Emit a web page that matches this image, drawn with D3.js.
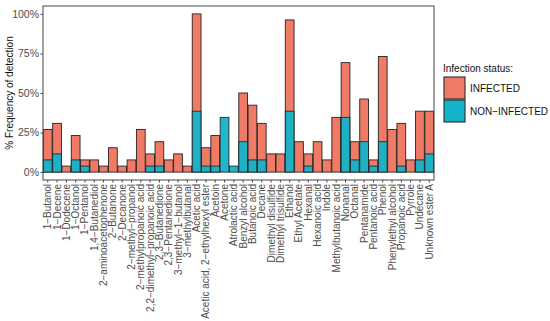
<!DOCTYPE html>
<html>
<head>
<meta charset="utf-8">
<script src="https://cdn.jsdelivr.net/npm/d3@7"></script>
<style>
  body { margin: 0; background: #fff; }
  svg { display: block; font-family: "Liberation Sans", Arial, sans-serif; }
</style>
</head>
<body>
<svg id="chart" width="550" height="321"></svg>
<script>
const compounds = [
  "1−Butanol", "1−Decene", "1−Dodecene", "1−Octanol", "1−Pentanol", "1,4−Butanediol",
  "2−aminoacetophenone", "2−Butanone", "2−Decanone", "2−methyl−propanol",
  "2−methylpropanoic acid", "2,2−dimethyl−propanoic acid", "2,3−Butanedione",
  "2,3−Pentanedione", "3−methyl−1−butanol", "3−methylbutanal", "Acetic acid",
  "Acetic acid, 2−ethylhexyl ester", "Acetoin", "Acetone", "Atrolactic acid",
  "Benzyl alcohol", "Butanoic acid", "Decane", "Dimethyl disulfide", "Dimethyl trisulfide",
  "Ethanol", "Ethyl Acetate", "Hexanal", "Hexanoic acid", "Indole", "Methylbutanoic acid",
  "Nonanal", "Octanal", "Pentanamide", "Pentanoic acid", "Phenol", "Phenylethyl alcohol",
  "Propanoic acid", "Pyrrole", "Undecane", "Unknown ester A"
];
// % frequency of detection
const infected = [
  26.9, 30.8, 3.8, 23.1, 7.7, 7.7, 3.8, 15.4, 3.8, 7.7,
  26.9, 11.5, 19.2, 7.7, 11.5, 3.8, 100, 15.4, 23.1, 0,
  0, 50, 42.3, 30.8, 11.5, 11.5, 96.2, 19.2, 11.5, 19.2,
  7.7, 34.6, 69.2, 19.2, 46.2, 7.7, 73.1, 26.9, 30.8, 7.7,
  38.5, 38.5
];
const nonInfected = [
  7.7, 11.5, 0, 7.7, 3.8, 0, 0, 0, 0, 0,
  0, 3.8, 3.8, 0, 0, 0, 38.5, 3.8, 3.8, 34.6,
  3.8, 19.2, 7.7, 7.7, 0, 0, 38.5, 0, 3.8, 0,
  0, 0, 34.6, 7.7, 19.2, 3.8, 19.2, 0, 3.8, 0,
  7.7, 11.5
];
const yTicks = [0, 25, 50, 75, 100];
const groups = ["INFECTED", "NON−INFECTED"];

const W = 550, H = 321;
const m = { top: 6, right: 116, bottom: 141, left: 43 };
const iW = W - m.left - m.right;
const iH = H - m.top - m.bottom;

const svg = d3.select("#chart");
const g = svg.append("g").attr("transform", `translate(${m.left},${m.top})`);

const x = d3.scaleBand().domain(compounds).range([0, iW]).paddingInner(0.06).paddingOuter(0.04);
const y = d3.scaleLinear().domain([-5, 105]).range([iH, 0]);
const color = d3.scaleOrdinal().domain(groups).range(["#EF7B66", "#14B2C8"]);

const rows = compounds.map((c, i) => ({ c, inf: infected[i], non: nonInfected[i] }));

// Bars: infected first, non-infected drawn over it
g.selectAll(".bar-inf").data(rows.filter(d => d.inf > 0)).join("rect")
  .attr("class", "bar-inf")
  .attr("x", d => x(d.c)).attr("width", x.bandwidth())
  .attr("y", d => y(d.inf)).attr("height", d => y(0) - y(d.inf))
  .attr("fill", color("INFECTED"))
  .attr("stroke", "#2a2222").attr("stroke-width", 0.9);

g.selectAll(".bar-non").data(rows.filter(d => d.non > 0)).join("rect")
  .attr("class", "bar-non")
  .attr("x", d => x(d.c)).attr("width", x.bandwidth())
  .attr("y", d => y(d.non)).attr("height", d => y(0) - y(d.non))
  .attr("fill", color("NON−INFECTED")).attr("fill-opacity", 0.95)
  .attr("stroke", "#222a2a").attr("stroke-width", 0.9);

// Panel border
g.append("rect").attr("width", iW).attr("height", iH)
  .attr("fill", "none").attr("stroke", "#444").attr("stroke-width", 1);

// Y-Axis
g.append("g")
  .call(d3.axisLeft(y).tickValues(yTicks).tickFormat(d => d + "%").tickSize(2.5).tickPadding(1.5))
  .call(ax => {
    ax.select(".domain").remove();
    ax.selectAll(".tick line").attr("stroke", "#444");
    ax.selectAll(".tick text").style("fill", "#4d4d4d").style("font-size", "10.5px");
  });

// X-Axis
g.append("g")
  .attr("transform", `translate(0,${iH})`)
  .call(d3.axisBottom(x).tickSize(2.5).tickPadding(1.5))
  .call(ax => {
    ax.select(".domain").remove();
    ax.selectAll(".tick line").attr("stroke", "#444");
    ax.selectAll(".tick text")
      .style("fill", "#4d4d4d").style("font-size", "10px")
      .attr("text-anchor", "end")
      .attr("transform", "rotate(-90)")
      .attr("x", -4).attr("y", 0).attr("dy", "0.35em");
  });

g.append("text")
  .attr("transform", "rotate(-90)").attr("x", -iH / 2).attr("y", -m.left + 13)
  .attr("text-anchor", "middle").style("fill", "#111").style("font-size", "10px")
  .text("% Frequency of detection");

// Legend
const legend = svg.append("g").attr("transform", "translate(443,72)");
legend.append("text").attr("x", 0).attr("y", 0)
  .style("fill", "#111").style("font-size", "10px").text("Infection status:");
groups.forEach((gName, i) => {
  const row = legend.append("g").attr("transform", `translate(1, ${5 + i * 23})`);
  row.append("rect").attr("width", 21).attr("height", 22)
    .attr("fill", color(gName)).attr("stroke", "#2a2a2a").attr("stroke-width", 1.1);
  row.append("text").attr("x", 26).attr("y", 14.5)
    .style("fill", "#111").style("font-size", "10px").text(gName);
});
</script>
</body>
</html>
